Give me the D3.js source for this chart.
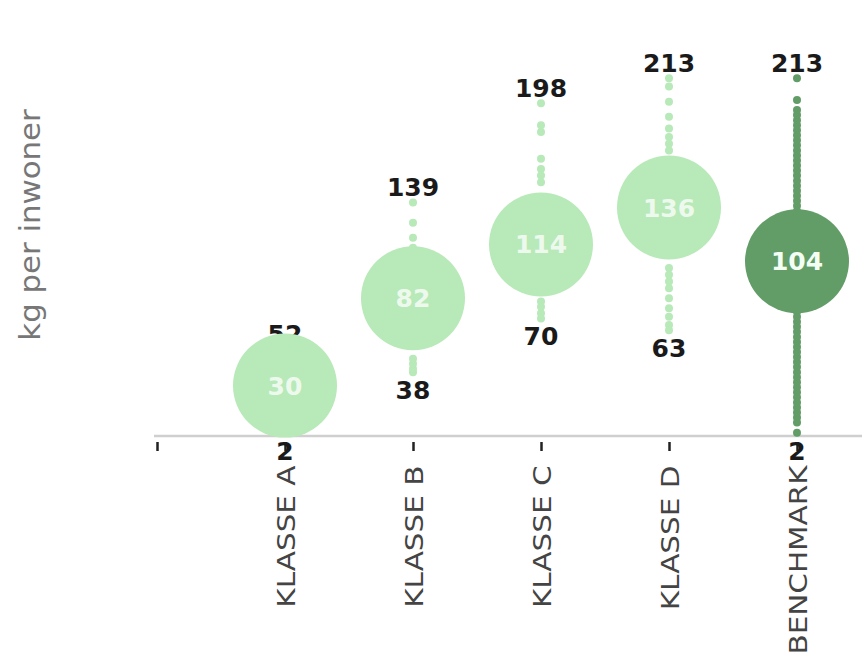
<!DOCTYPE html>
<html>
<head>
<meta charset="utf-8">
<script src="https://cdn.jsdelivr.net/npm/d3@7/dist/d3.min.js"></script>
<style>
  html, body { margin: 0; padding: 0; background: #fff; overflow: hidden; }
  svg { display: block; }
</style>
</head>
<body>
<svg id="chart" width="862" height="653"></svg>
<script>
// ---- data ----
const categories = ["KLASSE A", "KLASSE B", "KLASSE C", "KLASSE D", "BENCHMARK"];
const means = [30, 82, 114, 136, 104];
const klasseA = [2, 6, 11, 15, 19, 23, 26, 29, 31, 34, 37, 41, 45, 49, 52];
const klasseB = [38, 40, 43, 46, 55, 63, 70, 76, 81, 86, 92, 99, 106, 112, 118, 127, 139];
const klasseC = [70, 73, 77, 80, 86, 94, 102, 110, 118, 126, 134, 142, 151, 155, 159, 165, 181, 185, 198];
const klasseD = [63, 66, 71, 76, 82, 88, 92, 96, 100, 108, 118, 128, 140, 152, 162, 170, 174, 178, 183, 190, 199, 208, 213];
const benchmark = [2, 8, 11, 14, 17, 20, 23, 26, 29, 32, 35, 38, 41, 44, 47, 50, 53, 56, 59, 62, 65, 68, 71, 74,
  80, 88, 96, 104, 112, 120, 128, 134, 137, 140, 143, 146, 149, 152, 155, 158, 161, 164, 167, 170, 173,
  176, 179, 182, 185, 188, 191, 194, 200, 213];
const seriesValues = [klasseA, klasseB, klasseC, klasseD, benchmark];
const yTitle = "kg per inwoner";

// ---- layout ----
const svg = d3.select("#chart");
const lightGreen = "#b8e9b8";
const darkGreen = "#629d68";
const colorOf = c => c === "BENCHMARK" ? darkGreen : lightGreen;
const font = "'DejaVu Sans', Verdana, sans-serif";

const slots = [""].concat(categories, [" "]);
const x = d3.scalePoint().domain(slots).range([157, 925]);
const y = d3.scaleLinear().domain([0, 250]).range([436, 16]);

// x axis
const axisG = svg.append("g").attr("transform", "translate(0,436)");
axisG.append("line")
  .attr("x1", 154).attr("x2", 862).attr("y1", 0).attr("y2", 0)
  .attr("stroke", "#cfcfcf").attr("stroke-width", 2.5);
const xAxis = d3.axisBottom(x).tickSize(0).tickPadding(0);
const ax = axisG.append("g").call(xAxis);
ax.select(".domain").remove();
ax.selectAll(".tick line").remove();
ax.selectAll(".tick").append("line")
  .attr("y1", 6).attr("y2", 15).attr("stroke", "#222").attr("stroke-width", 2.5);
ax.selectAll(".tick text")
  .attr("transform", "rotate(-90) scale(1.18,1)")
  .attr("x", -25).attr("y", 0).attr("dy", "0.36em")
  .attr("text-anchor", "end")
  .attr("fill", "#444")
  .style("font-family", font)
  .style("font-size", "25px");

// y title
svg.append("text")
  .attr("transform", "translate(40,225) rotate(-90) scale(1.1,1)")
  .attr("text-anchor", "middle")
  .attr("fill", "#777")
  .style("font-family", font)
  .style("font-size", "28px")
  .text(yTitle);

const groups = categories.map((c, i) => ({
  cat: c, mean: means[i], vals: seriesValues[i],
  max: d3.max(seriesValues[i]), min: d3.min(seriesValues[i])
}));

// max / min labels
svg.append("g").selectAll("text").data(groups).join("text")
  .attr("x", d => x(d.cat)).attr("y", d => y(d.max) - 6)
  .attr("text-anchor", "middle").attr("fill", "#1a1a1a")
  .style("font-family", font).style("font-size", "25px").style("font-weight", "bold")
  .text(d => d.max);
svg.append("g").selectAll("text").data(groups).join("text")
  .attr("x", d => x(d.cat)).attr("y", d => y(d.min) + 27)
  .attr("text-anchor", "middle").attr("fill", "#1a1a1a")
  .style("font-family", font).style("font-size", "25px").style("font-weight", "bold")
  .text(d => d.min);

// dots
groups.forEach(g => {
  svg.append("g").selectAll("circle").data(g.vals).join("circle")
    .attr("cx", x(g.cat)).attr("cy", v => y(v)).attr("r", 4)
    .attr("fill", colorOf(g.cat));
});

// mean bubbles
svg.append("g").selectAll("circle").data(groups).join("circle")
  .attr("cx", d => x(d.cat)).attr("cy", d => y(d.mean)).attr("r", 52)
  .attr("fill", d => colorOf(d.cat));
svg.append("g").selectAll("text").data(groups).join("text")
  .attr("x", d => x(d.cat)).attr("y", d => y(d.mean)).attr("dy", "0.36em")
  .attr("text-anchor", "middle")
  .attr("fill", d => d.cat === "BENCHMARK" ? "#f4fff4" : "#eef9ee")
  .style("font-family", font).style("font-size", "25px").style("font-weight", "bold")
  .text(d => d.mean);
</script>
</body>
</html>
